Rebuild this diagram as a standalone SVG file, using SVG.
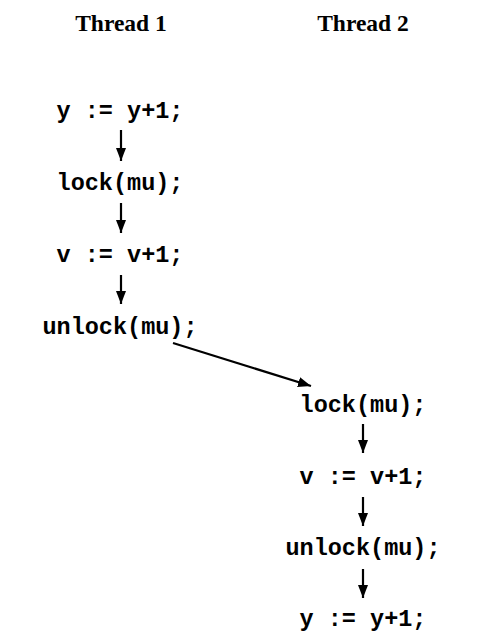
<svg xmlns="http://www.w3.org/2000/svg" width="485" height="642" viewBox="0 0 485 642">
<style>
.hdr{font-family:"Liberation Serif","Times New Roman",serif;font-weight:bold;font-size:23.5px;fill:#000;text-anchor:middle}
.code{font-family:"Liberation Mono","Courier New",monospace;font-weight:bold;font-size:23.5px;fill:#000;text-anchor:middle}
.edge{stroke:#000;stroke-width:2.2;fill:none;marker-end:url(#ah)}
</style>
<defs>
<marker id="ah" viewBox="0 0 13 10" refX="13" refY="5" markerWidth="13" markerHeight="10" markerUnits="userSpaceOnUse" orient="auto">
<path d="M0,0 L13,5 L0,10 z" fill="#000"/>
</marker>
</defs>
<g id="header1"><text class="hdr" x="121" y="31">Thread 1</text></g>
<g id="header2"><text class="hdr" x="363" y="31">Thread 2</text></g>
<g id="t1_y"><text class="code" x="120" y="118">y := y+1;</text></g>
<g id="t1_lock"><text class="code" x="120" y="190">lock(mu);</text></g>
<g id="t1_v"><text class="code" x="120" y="262">v := v+1;</text></g>
<g id="t1_unlock"><text class="code" x="120" y="334">unlock(mu);</text></g>
<g id="t2_lock"><text class="code" x="363" y="412">lock(mu);</text></g>
<g id="t2_v"><text class="code" x="363" y="484">v := v+1;</text></g>
<g id="t2_unlock"><text class="code" x="363" y="555">unlock(mu);</text></g>
<g id="t2_y"><text class="code" x="363" y="626">y := y+1;</text></g>
<g id="connectors">
<line class="edge" x1="121" y1="130" x2="121" y2="161"/>
<line class="edge" x1="121" y1="203" x2="121" y2="233"/>
<line class="edge" x1="121" y1="275" x2="121" y2="304"/>
<line class="edge" x1="173" y1="343" x2="311" y2="386"/>
<line class="edge" x1="363" y1="424" x2="363" y2="453"/>
<line class="edge" x1="363" y1="497" x2="363" y2="526"/>
<line class="edge" x1="363" y1="569" x2="363" y2="598"/>
</g>
</svg>
